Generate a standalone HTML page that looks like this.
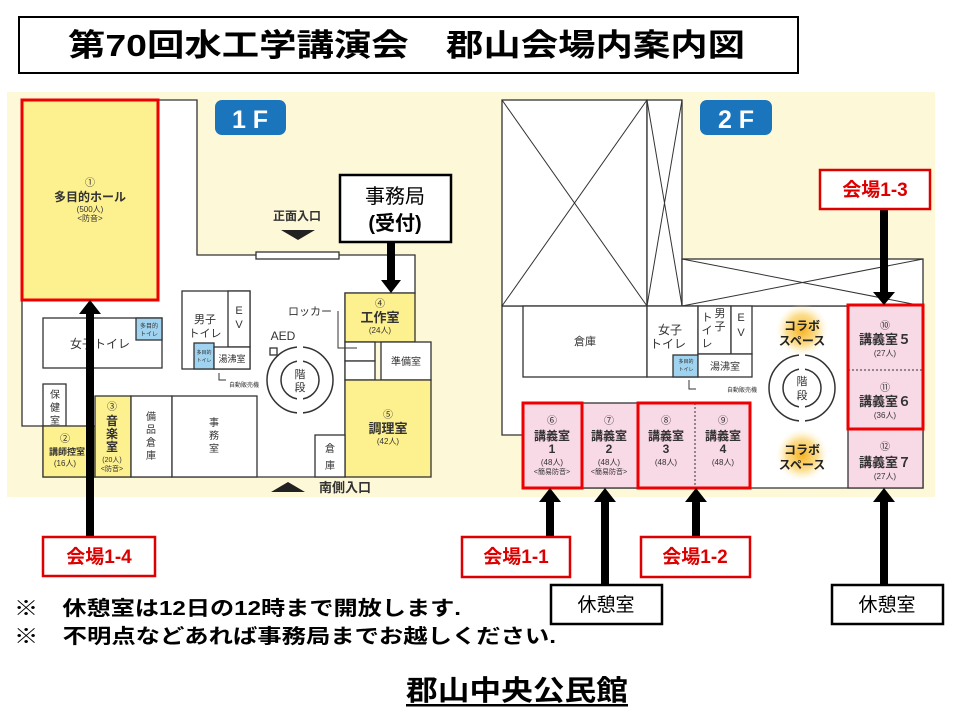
<!DOCTYPE html>
<html><head><meta charset="utf-8"><style>
html,body{margin:0;padding:0;background:#fff;}
svg{display:block;font-family:"Liberation Sans","Noto Sans CJK JP",sans-serif;}
</style></head><body>
<svg width="960" height="720" viewBox="0 0 960 720" xmlns="http://www.w3.org/2000/svg">
<defs>
<radialGradient id="gl"><stop offset="0" stop-color="#f7b21e"/><stop offset="0.6" stop-color="#fbd777" stop-opacity="0.8"/><stop offset="1" stop-color="#fff3d0" stop-opacity="0"/></radialGradient>
</defs>
<!-- title -->
<rect x="19" y="17" width="779" height="56" fill="#fff" stroke="#000" stroke-width="2"/>
<text x="68" y="56" font-size="31" font-weight="bold" textLength="677" lengthAdjust="spacingAndGlyphs">第70回水工学講演会　郡山会場内案内図</text>

<!-- backgrounds -->
<rect x="7" y="92" width="928" height="405" fill="#fdf8d8"/>

<g stroke="#333" stroke-width="1.3" fill="#fff">
<!-- 1F floor -->
<path d="M158,100 H197 V255 H415 V293 H345 V477 H43 V426 H22 V300 H158 Z"/>
<rect x="43" y="318" width="119" height="50"/>
<rect x="136" y="318" width="26" height="22" fill="#9fd3ef"/>
<rect x="182" y="291" width="68" height="78"/>
<rect x="228" y="291" width="22" height="56"/>
<rect x="194" y="343" width="20" height="26" fill="#9fd3ef"/>
<rect x="214" y="347" width="36" height="22"/>
<rect x="43" y="384" width="23" height="42"/>
<rect x="43" y="426" width="52" height="51" fill="#fdf08e"/>
<rect x="95" y="396" width="36" height="81" fill="#fdf08e"/>
<rect x="131" y="396" width="41" height="81"/>
<rect x="172" y="396" width="85" height="81"/>
<rect x="345" y="293" width="70" height="49" fill="#fdf08e"/>
<rect x="381" y="342" width="50" height="38"/>
<rect x="345" y="342" width="30" height="19"/>
<rect x="345" y="361" width="30" height="19"/>
<rect x="345" y="380" width="86" height="97" fill="#fdf08e"/>
<rect x="315" y="435" width="30" height="42"/>
<rect x="256" y="252" width="83" height="7"/>
<rect x="270" y="348" width="7" height="7"/>
<!-- 2F -->
<path d="M502,306 H923 V488 H523 V435 H502 Z"/>
<rect x="502" y="100" width="145" height="206"/>
<rect x="647" y="100" width="35" height="206"/>
<rect x="682" y="259" width="241" height="47"/>
<rect x="523" y="306" width="124" height="71"/>
<rect x="647" y="306" width="51" height="71"/>
<rect x="673" y="355" width="25" height="22" fill="#9fd3ef"/>
<rect x="698" y="306" width="33" height="48"/>
<rect x="731" y="306" width="21" height="48"/>
<rect x="698" y="354" width="54" height="23"/>
<rect x="523" y="403" width="227" height="85" fill="#f8d9e6"/>
<rect x="848" y="305" width="75" height="183" fill="#f8d9e6"/>
</g>
<g stroke="#333" stroke-width="1" fill="none">
<path d="M502,100 L647,306 M647,100 L502,306 M647,100 L682,306 M682,100 L647,306 M682,259 L923,306 M923,259 L682,306"/>
<line x1="582" y1="403" x2="582" y2="488"/><line x1="638" y1="403" x2="638" y2="488"/>
<line x1="695" y1="403" x2="695" y2="488" stroke-dasharray="2,2"/>
<line x1="848" y1="370" x2="923" y2="370" stroke-dasharray="2,2"/>
<line x1="848" y1="429" x2="923" y2="429"/>
<path d="M338,311 V348 H357"/>
<path d="M219,373 V380 H226"/><path d="M689,380 V389 H696"/>
</g>
<!-- stairs -->
<g stroke="#333" stroke-width="1.5" fill="#fff">
<circle cx="300" cy="380" r="33"/><circle cx="300" cy="380" r="19"/>
<circle cx="802" cy="388" r="33"/><circle cx="802" cy="388" r="19"/>
</g>
<rect x="297" y="345" width="6" height="70" fill="#fff"/>
<rect x="799" y="353" width="6" height="70" fill="#fff"/>
<circle cx="802" cy="330" r="26" fill="url(#gl)"/>
<circle cx="802" cy="455" r="26" fill="url(#gl)"/>

<!-- red boxes -->
<g fill="none" stroke="#e00" stroke-width="3">
<rect x="22" y="100" width="136" height="200" fill="#fdf08e"/>
<rect x="523" y="403" width="59" height="85"/>
<rect x="638" y="403" width="112" height="85"/>
<rect x="848" y="305" width="75" height="124"/>
</g>

<!-- floor labels -->
<rect x="215" y="100" width="71" height="35" rx="7" fill="#1a75bc"/>
<text x="250" y="128" font-size="25" font-weight="bold" fill="#fff" text-anchor="middle">1 F</text>
<rect x="700" y="100" width="72" height="35" rx="7" fill="#1a75bc"/>
<text x="736" y="128" font-size="25" font-weight="bold" fill="#fff" text-anchor="middle">2 F</text>

<!-- 1F texts -->
<g font-size="10" text-anchor="middle" fill="#333">
<text x="90" y="186">①</text>
<text x="90" y="201" font-size="12" font-weight="bold">多目的ホール</text>
<text x="90" y="212" font-size="8">(500人)</text><text x="90" y="221" font-size="8">&lt;防音&gt;</text>
<text x="297" y="220" font-size="12" font-weight="bold">正面入口</text>
<text x="100" y="348" font-size="12">女子トイレ</text>
<text x="149" y="328" font-size="6">多目的</text><text x="149" y="336" font-size="6">トイレ</text>
<text x="205" y="323" font-size="11">男子</text><text x="205" y="337" font-size="11">トイレ</text>
<text x="239" y="314" font-size="11">E</text><text x="239" y="328" font-size="11">V</text>
<text x="204" y="354" font-size="5">多目的</text><text x="204" y="362" font-size="5">トイレ</text>
<text x="232" y="362" font-size="9">湯沸室</text>
<text x="244" y="387" font-size="6">自動販売機</text>
<text x="310" y="315" font-size="11">ロッカー</text>
<text x="283" y="340" font-size="12">AED</text>
<text x="300" y="378" font-size="11">階</text><text x="300" y="391" font-size="11">段</text>
<text x="380" y="307">④</text>
<text x="380" y="322" font-size="13" font-weight="bold">工作室</text>
<text x="380" y="333" font-size="8">(24人)</text>
<text x="406" y="365" font-size="10">準備室</text>
<text x="388" y="418">⑤</text>
<text x="388" y="433" font-size="13" font-weight="bold">調理室</text>
<text x="388" y="444" font-size="8">(42人)</text>
<text x="330" y="452" font-size="10">倉</text><text x="330" y="469" font-size="10">庫</text>
<text x="55" y="398" font-size="10">保</text><text x="55" y="411" font-size="10">健</text><text x="55" y="424" font-size="10">室</text>
<text x="65" y="442">②</text>
<text x="67" y="455" font-size="9" font-weight="bold">講師控室</text>
<text x="65" y="466" font-size="8">(16人)</text>
<text x="112" y="410">③</text>
<text x="112" y="425" font-size="12" font-weight="bold">音</text><text x="112" y="438" font-size="12" font-weight="bold">楽</text><text x="112" y="451" font-size="12" font-weight="bold">室</text>
<text x="112" y="462" font-size="7">(20人)</text><text x="112" y="471" font-size="7">&lt;防音&gt;</text>
<text x="151" y="420" font-size="10">備</text><text x="151" y="433" font-size="10">品</text><text x="151" y="446" font-size="10">倉</text><text x="151" y="459" font-size="10">庫</text>
<text x="214" y="426" font-size="10">事</text><text x="214" y="439" font-size="10">務</text><text x="214" y="452" font-size="10">室</text>
<text x="345" y="492" font-size="13" font-weight="bold">南側入口</text>
</g>
<polygon points="281,230 315,230 298,240" fill="#222"/>
<polygon points="271,492 305,492 288,482" fill="#222"/>

<!-- 2F texts -->
<g font-size="10" text-anchor="middle" fill="#333">
<text x="585" y="345" font-size="11">倉庫</text>
<text x="670" y="334" font-size="12">女子</text><text x="668" y="348" font-size="12">トイレ</text>
<text x="686" y="363" font-size="5">多目的</text><text x="686" y="371" font-size="5">トイレ</text>
<text x="707" y="321" font-size="11">ト</text><text x="707" y="334" font-size="11">イ</text><text x="707" y="347" font-size="11">レ</text>
<text x="720" y="317" font-size="11">男</text><text x="720" y="330" font-size="11">子</text>
<text x="741" y="321" font-size="11">E</text><text x="741" y="336" font-size="11">V</text>
<text x="725" y="370" font-size="10">湯沸室</text>
<text x="742" y="392" font-size="6">自動販売機</text>
<text x="802" y="385" font-size="11">階</text><text x="802" y="399" font-size="11">段</text>
<g font-weight="bold" font-size="12" fill="#222">
<text x="802" y="330">コラボ</text><text x="802" y="345">スペース</text>
<text x="802" y="454">コラボ</text><text x="802" y="469">スペース</text>
</g>
<text x="552" y="424">⑥</text><text x="552" y="440" font-size="12" font-weight="bold">講義室</text><text x="552" y="453" font-size="12" font-weight="bold">1</text><text x="552" y="465" font-size="8">(48人)</text><text x="552" y="474" font-size="7">&lt;簡易防音&gt;</text>
<text x="609" y="424">⑦</text><text x="609" y="440" font-size="12" font-weight="bold">講義室</text><text x="609" y="453" font-size="12" font-weight="bold">2</text><text x="609" y="465" font-size="8">(48人)</text><text x="609" y="474" font-size="7">&lt;簡易防音&gt;</text>
<text x="666" y="424">⑧</text><text x="666" y="440" font-size="12" font-weight="bold">講義室</text><text x="666" y="453" font-size="12" font-weight="bold">3</text><text x="666" y="465" font-size="8">(48人)</text>
<text x="723" y="424">⑨</text><text x="723" y="440" font-size="12" font-weight="bold">講義室</text><text x="723" y="453" font-size="12" font-weight="bold">4</text><text x="723" y="465" font-size="8">(48人)</text>
<text x="885" y="329">⑩</text><text x="885" y="344" font-size="13" font-weight="bold">講義室５</text><text x="885" y="356" font-size="8">(27人)</text>
<text x="885" y="391">⑪</text><text x="885" y="406" font-size="13" font-weight="bold">講義室６</text><text x="885" y="418" font-size="8">(36人)</text>
<text x="885" y="450">⑫</text><text x="885" y="467" font-size="13" font-weight="bold">講義室７</text><text x="885" y="479" font-size="8">(27人)</text>
</g>

<!-- 事務局 -->
<rect x="340" y="175" width="111" height="67" fill="#fff" stroke="#000" stroke-width="2.5"/>
<text x="395" y="203" font-size="20" text-anchor="middle">事務局</text>
<text x="395" y="230" font-size="20" font-weight="bold" text-anchor="middle">(受付)</text>
<rect x="387" y="242" width="8" height="40" fill="#000"/><polygon points="381,280 401,280 391,293" fill="#000"/>

<!-- arrows -->
<g fill="#000">
<rect x="86" y="312" width="8" height="225"/><polygon points="79,314 101,314 90,300"/>
<rect x="546" y="500" width="8" height="37"/><polygon points="539,502 561,502 550,488"/>
<rect x="601" y="500" width="8" height="85"/><polygon points="594,502 616,502 605,488"/>
<rect x="692" y="500" width="8" height="37"/><polygon points="685,502 707,502 696,488"/>
<rect x="880" y="500" width="8" height="85"/><polygon points="873,502 895,502 884,488"/>
<rect x="880" y="209" width="8" height="84"/><polygon points="873,292 895,292 884,305"/>
</g>

<!-- 会場 labels -->
<g fill="#fff" stroke="#d00" stroke-width="2.5">
<rect x="43" y="537" width="112" height="39"/>
<rect x="462" y="537" width="108" height="40"/>
<rect x="641" y="537" width="109" height="40"/>
<rect x="820" y="170" width="110" height="39"/>
</g>
<g font-size="19" font-weight="bold" fill="#d00" text-anchor="middle">
<text x="99" y="563">会場1-4</text>
<text x="516" y="563">会場1-1</text>
<text x="695" y="563">会場1-2</text>
<text x="875" y="196">会場1-3</text>
</g>
<g fill="#fff" stroke="#000" stroke-width="2.5">
<rect x="551" y="585" width="111" height="39"/>
<rect x="832" y="585" width="111" height="39"/>
</g>
<text x="606" y="611" font-size="19" text-anchor="middle">休憩室</text>
<text x="887" y="611" font-size="19" text-anchor="middle">休憩室</text>

<!-- notes -->
<text x="14" y="615" font-size="20" font-weight="bold" textLength="447" lengthAdjust="spacingAndGlyphs">※　休憩室は12日の12時まで開放します.</text>
<text x="14" y="643" font-size="20" font-weight="bold" textLength="542" lengthAdjust="spacingAndGlyphs">※　不明点などあれば事務局までお越しください.</text>
<text x="406" y="700" font-size="28" font-weight="bold" textLength="222" lengthAdjust="spacingAndGlyphs">郡山中央公民館</text>
<rect x="406" y="704" width="222" height="2.5" fill="#000"/>
</svg>
</body></html>
